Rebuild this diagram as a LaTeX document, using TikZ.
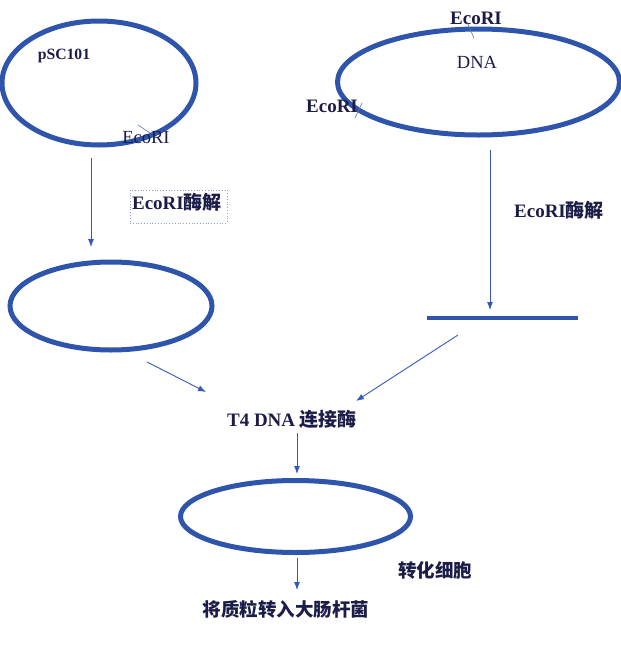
\documentclass[tikz,border=0pt]{standalone}
\usepackage{fontspec}
\setmainfont{Liberation Serif}
\newfontfamily\cjk{Noto Sans CJK SC}
\usetikzlibrary{shapes.geometric,arrows.meta}
\definecolor{ringblue}{RGB}{46,84,172}
\definecolor{arrblue}{RGB}{52,88,190}
\definecolor{txt}{RGB}{28,28,72}
\definecolor{tickc}{RGB}{90,120,150}
\definecolor{boxc}{RGB}{140,160,215}
\tikzset{
  ring/.style={draw=ringblue, line width=5pt, ellipse, inner sep=0pt},
  arr/.style={draw=arrblue, line width=0.9pt, -{Latex[length=8pt,width=6pt]}},
  lbl/.style={text=txt, inner sep=0pt, font=\fontsize{18.5}{20}\selectfont},
  blbl/.style={lbl, font=\fontsize{19}{21}\selectfont\bfseries},
  cut/.style={draw=tickc, line width=0.6pt},
}
\begin{document}
\begin{tikzpicture}[x=1pt,y=-1pt]
\useasboundingbox (0,0) rectangle (621,646);
% top-left plasmid
\node[ring, minimum width=194pt, minimum height=124pt] (p1) at (99,83) {};
\node[blbl, font=\fontsize{15.7}{17}\selectfont\bfseries] (pname) at (64,56) {pSC101};
\coordinate (t1a) at (138,125); \coordinate (t1b) at (150,133);
\draw[cut] (t1a) -- (t1b);
\node[lbl] (e1) at (146,138) {EcoRI};
% top-right DNA
\node[ring, minimum width=282pt, minimum height=106pt] (d1) at (478.5,82) {};
\node[blbl] (e2) at (476,18) {EcoRI};
\node[lbl] (dna) at (477,62) {DNA};
\node[blbl] (e3) at (332,106) {EcoRI};
\coordinate (t2a) at (467,22); \coordinate (t2b) at (474,38);
\draw[cut] (t2a) -- (t2b);
\coordinate (t3a) at (362,103); \coordinate (t3b) at (355,118);
\draw[cut] (t3a) -- (t3b);
% left digestion
\coordinate (a1s) at (91,158); \coordinate (a1e) at (91,247);
\draw[arr] (a1s) -- (a1e);
\node[draw=boxc, dotted, line width=0.8pt, minimum width=97pt, minimum height=33pt, inner sep=0pt] (bx) at (178.5,206.5) {};
\node[blbl] (dig1) at (177,202) {EcoRI{\cjk\bfseries 酶解}};
\node[ring, minimum width=202pt, minimum height=88pt] (p2) at (111,306) {};
% right digestion
\coordinate (a2s) at (490,150); \coordinate (a2e) at (490,310);
\draw[arr] (a2s) -- (a2e);
\node[blbl] (dig2) at (559,210) {EcoRI{\cjk\bfseries 酶解}};
\coordinate (bar1) at (427,318); \coordinate (bar2) at (578,318);
\draw[draw=ringblue, line width=4pt] (bar1) -- (bar2);
% ligation
\coordinate (a3s) at (147,362); \coordinate (a3e) at (206,392);
\draw[arr] (a3s) -- (a3e);
\coordinate (a4s) at (458,335); \coordinate (a4e) at (356,401);
\draw[arr] (a4s) -- (a4e);
\node[blbl] (lig) at (292,419) {T4 DNA {\cjk\bfseries 连接酶}};
\coordinate (a5s) at (297,433); \coordinate (a5e) at (297,474);
\draw[arr] (a5s) -- (a5e);
\node[ring, minimum width=230pt, minimum height=72pt] (p3) at (295.5,516.5) {};
\coordinate (a6s) at (297,558); \coordinate (a6e) at (297,590);
\draw[arr] (a6s) -- (a6e);
\node[lbl] (tr) at (435,570) {\cjk\bfseries 转化细胞};
\node[lbl] (ec) at (286,609) {\cjk\bfseries 将质粒转入大肠杆菌};
\end{tikzpicture}
\end{document}
